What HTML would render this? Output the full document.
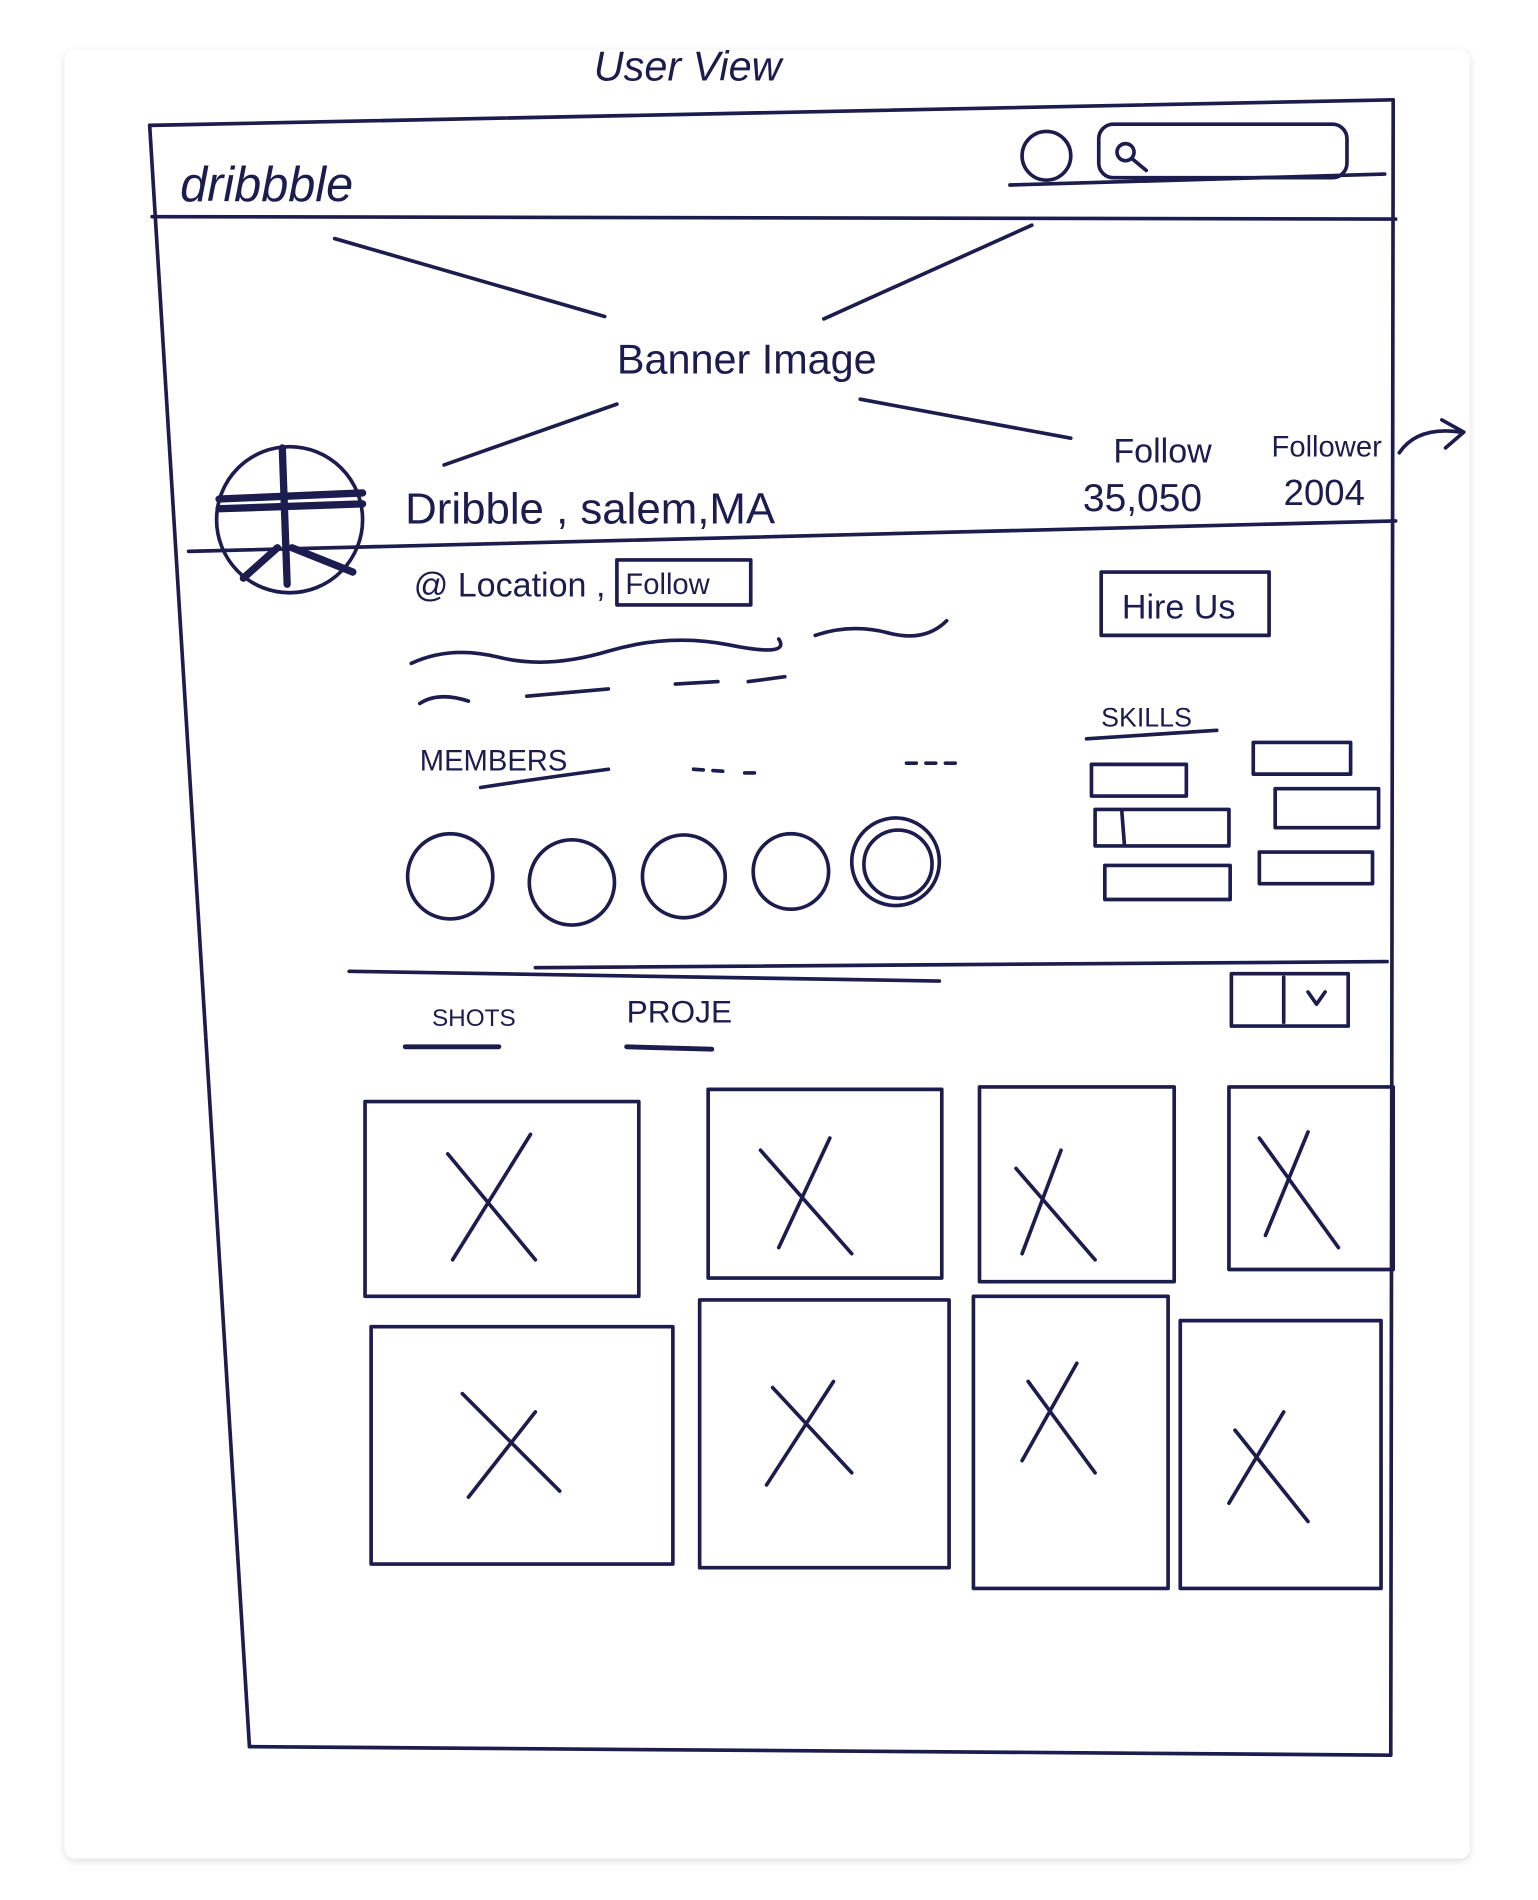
<!DOCTYPE html>
<html><head><meta charset="utf-8"><style>
html,body{margin:0;padding:0;background:#fff;}
svg{display:block;}
text{font-family:"Liberation Sans",sans-serif;fill:#1c1c4e;}
</style></head><body>
<svg width="1538" height="1900" viewBox="0 0 1264 1561" preserveAspectRatio="none" xmlns="http://www.w3.org/2000/svg">
<defs><filter id="sh" x="-5%" y="-5%" width="110%" height="110%"><feGaussianBlur stdDeviation="3"/></filter></defs>
<rect x="53" y="43" width="1155" height="1486" rx="8" fill="#ddd" filter="url(#sh)"/>
<rect x="53" y="41" width="1155" height="1486" rx="8" fill="#fff"/>
<g fill="none" stroke="#1c1c4e" stroke-width="3" stroke-linecap="round" stroke-linejoin="round">
<text x="488" y="66" font-size="34" font-style="italic" stroke="none">User View</text>
<!-- frame -->
<path d="M123 103 L1145 82"/>
<path d="M123 103 L205 1435"/>
<path d="M1145 82 L1143 1442"/>
<path d="M205 1435 L1143 1442"/>
<path d="M125 178 L1147 180"/>
<path d="M830 152 L1138 143"/>
<!-- header -->
<circle cx="860" cy="128" r="20"/>
<rect x="903" y="102" width="204" height="44" rx="12"/>
<circle cx="925" cy="125" r="7"/><path d="M930 130 L942 140"/>
<!-- banner -->
<path d="M275 196 L497 260"/><path d="M848 185 L677 262"/>
<path d="M365 382 L507 332"/><path d="M707 328 L880 360"/>
<!-- avatar -->
<circle cx="238" cy="427" r="60"/>
<path d="M180 410 L298 405 M180 418 L298 414" stroke-width="6"/>
<path d="M232 368 L236 480 M228 450 L200 475 M240 450 L290 470" stroke-width="6"/>
<!-- arrow -->
<path d="M1150 372 Q1165 350 1200 355 M1185 345 L1203 355 L1188 368"/>
<path d="M155 453 L1147 428"/>
<!-- follow box / hire -->
<rect x="507" y="460" width="110" height="37"/>
<rect x="905" y="470" width="138" height="52"/>
<!-- squiggles -->
<path d="M338 545 Q370 530 410 540 T500 535 T600 530 T640 525"/>
<path d="M670 522 Q700 512 730 520 T778 510"/>
<path d="M345 578 Q360 568 385 576 M433 572 L500 566 M555 562 L590 560 M615 560 L645 556"/>
<path d="M395 647 Q440 640 500 632"/>
<path d="M570 632 L600 634 M612 635 L620 635 M745 627 L788 627" stroke-dasharray="8 8"/>
<!-- skills -->
<path d="M893 607 L1000 600"/>
<rect x="897" y="628" width="78" height="26"/>
<rect x="1030" y="610" width="80" height="26"/>
<rect x="900" y="665" width="110" height="30"/>
<path d="M922 667 L924 693"/>
<rect x="1048" y="648" width="85" height="32"/>
<rect x="908" y="711" width="103" height="28"/>
<rect x="1035" y="700" width="93" height="26"/>
<!-- members -->
<circle cx="370" cy="720" r="35"/><circle cx="470" cy="725" r="35"/>
<circle cx="562" cy="720" r="34"/><circle cx="650" cy="716" r="31"/>
<circle cx="736" cy="708" r="36"/><circle cx="738" cy="710" r="28"/>
<path d="M287 798 L772 806 M440 795 L1140 790"/>
<path d="M333 860 L410 860 M515 860 L585 862" stroke-width="4"/>
<rect x="1012" y="800" width="96" height="43"/>
<path d="M1055 803 L1055 840 M1075 815 L1082 825 L1089 815"/>
<!-- grid -->
<g>
<rect x="300" y="905" width="225" height="160"/><path d="M368 948 L440 1035 M436 932 L372 1035"/>
<rect x="582" y="895" width="192" height="155"/><path d="M625 945 L700 1030 M682 935 L640 1025"/>
<rect x="805" y="893" width="160" height="160"/><path d="M835 960 L900 1035 M872 945 L840 1030"/>
<rect x="1010" y="893" width="135" height="150"/><path d="M1035 935 L1100 1025 M1075 930 L1040 1015"/>
<rect x="305" y="1090" width="248" height="195"/><path d="M380 1145 L460 1225 M440 1160 L385 1230"/>
<rect x="575" y="1068" width="205" height="220"/><path d="M635 1140 L700 1210 M685 1135 L630 1220"/>
<rect x="800" y="1065" width="160" height="240"/><path d="M845 1135 L900 1210 M885 1120 L840 1200"/>
<rect x="970" y="1085" width="165" height="220"/><path d="M1015 1175 L1075 1250 M1055 1160 L1010 1235"/>
</g>
</g>
<text x="148" y="165" font-size="40" font-style="italic" font-family="Liberation Serif">dribbble</text>
<text x="507" y="307" font-size="34">Banner Image</text>
<text x="333" y="430" font-size="36">Dribble , salem,MA</text>
<text x="915" y="380" font-size="28">Follow</text>
<text x="890" y="420" font-size="32">35,050</text>
<text x="1045" y="375" font-size="24">Follower</text>
<text x="1055" y="415" font-size="30">2004</text>
<text x="340" y="490" font-size="28">@ Location ,</text>
<text x="514" y="488" font-size="24">Follow</text>
<text x="922" y="508" font-size="28">Hire Us</text>
<text x="905" y="597" font-size="22">SKILLS</text>
<text x="345" y="633" font-size="24">MEMBERS</text>
<text x="355" y="843" font-size="20">SHOTS</text>
<text x="515" y="840" font-size="26">PROJE</text>
</svg>
</body></html>
